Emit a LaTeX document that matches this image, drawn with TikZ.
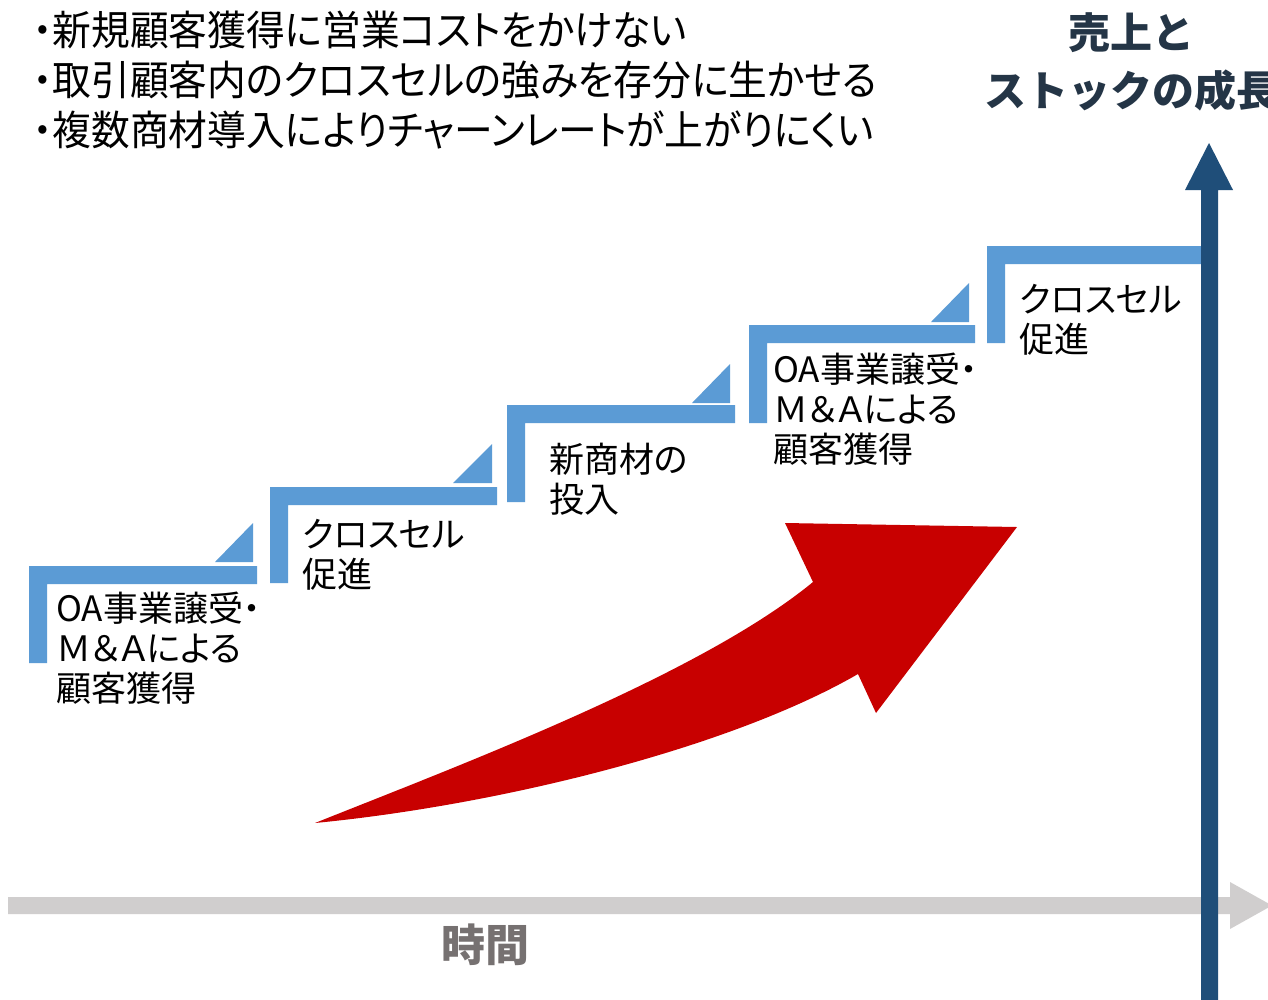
\documentclass[tikz,border=0pt]{standalone}
\usepackage{fontspec}
\newfontfamily\jptop[RawFeature=+palt,FakeStretch=0.945]{Noto Sans CJK JP}
\newfontfamily\jplab[RawFeature=+palt]{Noto Sans CJK JP}
\newfontfamily\jpbold{Noto Sans CJK JP}
\definecolor{stepblue}{HTML}{5B9BD5}
\definecolor{axisblue}{HTML}{1F4E79}
\definecolor{axisgray}{HTML}{D0CECE}
\definecolor{arrowred}{HTML}{C80000}
\definecolor{titledark}{HTML}{243546}
\definecolor{timegray}{HTML}{767171}
\tikzset{
  stepbar/.style={fill=stepblue},
  steptri/.style={fill=stepblue},
  steplabel/.style={anchor=north west, inner sep=0pt, align=left,
    font=\fontsize{35}{40}\selectfont\jplab, text=black},
}
\begin{document}
\begin{tikzpicture}[x=1pt,y=-1pt]
\useasboundingbox (0,0) rectangle (1268,999);
\clip (0,0) rectangle (1268,999);
\fill[white] (0,0) rectangle (1268,999);

% bullet text
\node[anchor=north west, inner sep=0pt, align=left,
  font=\fontsize{41}{50}\selectfont\jptop] (bullets) at (33,11)
  {・新規顧客獲得に営業コストをかけない\\
   ・取引顧客内のクロスセルの強みを存分に生かせる\\
   ・複数商材導入によりチャーンレートが上がりにくい};

% title
\node[align=center, inner sep=0pt, text=titledark,
  font=\fontsize{42}{58}\selectfont\jpbold\bfseries] (title) at (1131,62)
  {売上と\\ストックの成長};

% time axis (gray)
\fill[axisgray] (8,897) -- (1230,897) -- (1230,882) -- (1272,905.5)
  -- (1230,929) -- (1230,914) -- (8,914) -- cycle;
\node[inner sep=0pt, text=timegray,
  font=\fontsize{44}{50}\selectfont\jpbold\bfseries] (time) at (485,945) {時間};

% steps
\fill[stepbar] (29,566) -- (257,566) -- (257,584) -- (47,584) -- (47,663) -- (29,663) -- cycle;
\fill[steptri] (215,562) -- (253,562) -- (253,523) -- cycle;
\fill[stepbar] (270,487) -- (497,487) -- (497,505) -- (288,505) -- (288,583) -- (270,583) -- cycle;
\fill[steptri] (453,483) -- (492,483) -- (492,444) -- cycle;
\fill[stepbar] (507,405) -- (735,405) -- (735,423) -- (525,423) -- (525,502) -- (507,502) -- cycle;
\fill[steptri] (692,403) -- (730,403) -- (730,364) -- cycle;
\fill[stepbar] (749,325) -- (975,325) -- (975,343) -- (767,343) -- (767,423) -- (749,423) -- cycle;
\fill[steptri] (931,322) -- (969,322) -- (969,283) -- cycle;
\fill[stepbar] (987,246) -- (1205,246) -- (1205,264) -- (1005,264) -- (1005,343) -- (987,343) -- cycle;

% step labels
\node[steplabel] (l1) at (56,592) {OA事業譲受・\\Ｍ＆Ａによる\\顧客獲得};
\node[steplabel] (l2) at (302,519) {クロスセル\\促進};
\node[steplabel] (l3) at (549,443) {新商材の\\投入};
\node[steplabel] (l4) at (773,353) {OA事業譲受・\\Ｍ＆Ａによる\\顧客獲得};
\node[steplabel] (l5) at (1019,284) {クロスセル\\促進};

% red growth arrow
\fill[arrowred] (315,823) .. controls (460,765) and (700,675) .. (813,582)
  -- (785,523) -- (1017,527) -- (876,713) -- (858,674)
  .. controls (730,748) and (500,805) .. (315,823) -- cycle;

% vertical axis (blue)
\fill[axisblue] (1201,1005) -- (1201,190) -- (1185,190) -- (1209,143)
  -- (1233,190) -- (1218,190) -- (1218,1005) -- cycle;
\end{tikzpicture}
\end{document}
